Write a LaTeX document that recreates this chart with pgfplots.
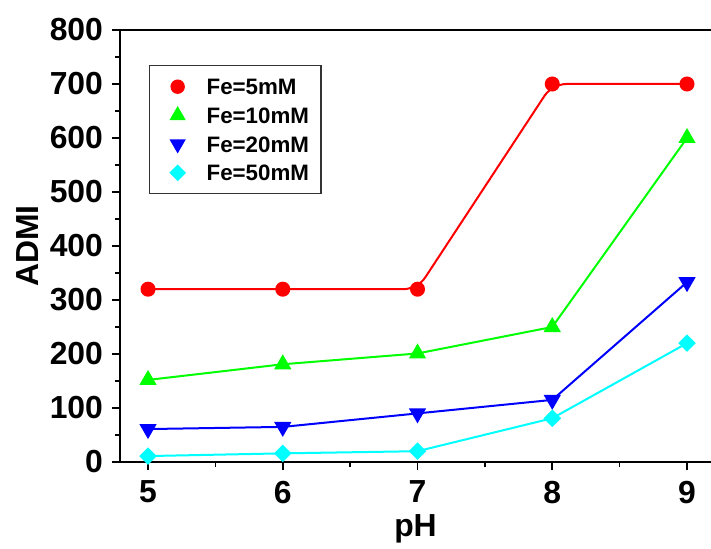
\documentclass[border=0pt]{standalone}
\usepackage{fontspec}
\setmainfont{Liberation Sans}
\usepackage{pgfplots}
\pgfplotsset{compat=1.18}
\definecolor{cRed}{RGB}{255,0,0}
\definecolor{cGreen}{RGB}{0,255,0}
\definecolor{cBlue}{RGB}{0,0,255}
\definecolor{cCyan}{RGB}{0,255,255}
\begin{document}
\begin{tikzpicture}
\begin{axis}[
  scale only axis,
  width=295.5bp, height=216bp,
  xmin=4.792, xmax=9.178,
  ymin=0, ymax=800,
  axis x line=box,
  axis y line=left,
  axis line style={-, line width=1bp, black},
  xtick={5,6,7,8,9},
  minor x tick num=1,
  ytick={0,100,...,800},
  minor y tick num=1,
  tick align=outside,
  xtick pos=bottom,
  ytick pos=left,
  major tick length=4bp,
  minor tick length=2.5bp,
  every tick/.style={black, line width=0.8bp},
  /pgf/number format/assume math mode=true,
  ticklabel style={font=\bfseries\fontsize{16}{16}\selectfont},
  xticklabel style={yshift=-2bp},
  yticklabel style={xshift=-1bp},
  xlabel={pH},
  ylabel={ADMI},
  label style={font=\bfseries\fontsize{16}{16}\selectfont},
  xlabel style={at={(axis description cs:0.5,-0.155)}, anchor=center},
  ylabel style={at={(axis description cs:-0.157,0.5)}, anchor=center, rotate=0},
  legend style={at={(axis description cs:0.049,0.919)}, anchor=north west,
    draw=black!80, line width=0.7bp, font=\bfseries\fontsize{11.2}{11.2}\selectfont,
    row sep=2.35bp, inner xsep=5bp, inner ysep=4.5bp,
    nodes={inner xsep=1bp, inner ysep=1bp, text height=9bp, text depth=1bp},
    /tikz/every odd column/.append style={column sep=6.5bp}},
  legend image code/.code={\path[draw=none,fill=none] (0bp,-3bp) rectangle (16bp,3bp); \path[draw=none] plot coordinates {(9bp,0bp)};},
  legend cell align=left,
  clip=false,
]
\addlegendimage{only marks, mark=*, cRed, mark size=3.25bp, mark options={draw=cRed, fill=cRed}}
\addlegendentry{Fe=5mM}
\addlegendimage{only marks, mark=triangle*, cGreen, mark size=4bp, mark options={draw=cGreen, fill=cGreen}}
\addlegendentry{Fe=10mM}
\addlegendimage{only marks, mark=triangle*, cBlue, mark size=4bp, mark options={rotate=180, draw=cBlue, fill=cBlue}}
\addlegendentry{Fe=20mM}
\addlegendimage{only marks, mark=square*, cCyan, mark size=2.6bp, mark options={rotate=45, draw=cCyan, fill=cCyan}}
\addlegendentry{Fe=50mM}

\addplot[forget plot, cRed, line width=1bp, rounded corners=7bp, mark=*, mark size=3.25bp]
  coordinates {(5,320) (6,320) (7,320) (8,700) (9,700)};
\addplot[forget plot, cGreen, line width=1bp, mark=triangle*, mark size=4bp]
  coordinates {(5,152) (6,181) (7,201) (8,250) (9,600)};
\addplot[forget plot, cBlue, line width=1bp, mark=triangle*, mark size=4bp, mark options={rotate=180}]
  coordinates {(5,61) (6,65) (7,90) (8,115) (9,333)};
\addplot[forget plot, cCyan, line width=1bp, mark=square*, mark size=2.6bp, mark options={rotate=45}]
  coordinates {(5,11) (6,16) (7,20) (8,81) (9,220)};
\end{axis}
\pgfresetboundingbox
\useasboundingbox ([shift={(-60bp,-43.5bp)}]current axis.south west) rectangle ([shift={(0bp,15bp)}]current axis.north east);
\end{tikzpicture}
\end{document}
